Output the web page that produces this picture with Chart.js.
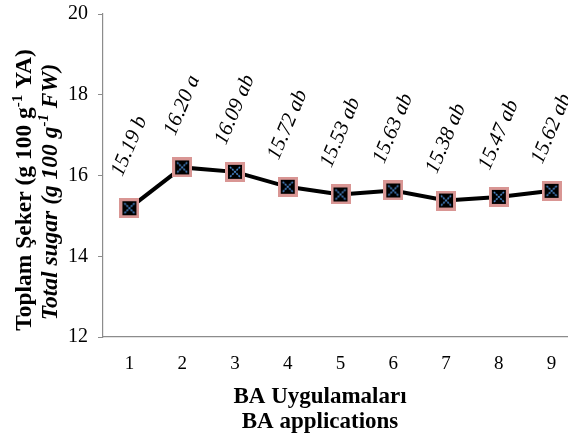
<!DOCTYPE html>
<html>
<head>
<meta charset="utf-8">
<script src="https://cdn.jsdelivr.net/npm/chart.js"></script>
<style>
  html, body { margin: 0; padding: 0; background: #fff; overflow: hidden; }
  #wrap { position: absolute; left: 0; top: 0; width: 580px; height: 438px; }
</style>
</head>
<body>
<div id="wrap"><canvas id="sugar" width="580" height="438"></canvas></div>
<script>
  // values
  const categories = ['1', '2', '3', '4', '5', '6', '7', '8', '9'];
  const totalSugar = [15.19, 16.20, 16.09, 15.72, 15.53, 15.63, 15.38, 15.47, 15.62];
  const letters = ['b', 'a', 'ab', 'ab', 'ab', 'ab', 'ab', 'ab', 'ab'];
  const yTicks = [12, 14, 16, 18, 20];
  const xTitle = ['BA Uygulamaları', 'BA applications'];

  const serif = '"Liberation Serif", "Times New Roman", serif';

  // square marker: pink rim, black body, dotted blue cross
  function makeMarker() {
    const c = document.createElement('canvas');
    c.width = 20; c.height = 20;
    const g = c.getContext('2d');
    g.fillStyle = '#d99694';
    g.fillRect(0, 0, 20, 20);
    g.fillStyle = '#000';
    g.fillRect(3, 3, 14, 14);
    g.strokeStyle = '#4f8fd8';
    g.lineWidth = 1.5;
    g.setLineDash([2, 1]);
    g.beginPath();
    g.moveTo(5, 5); g.lineTo(15, 15);
    g.moveTo(15, 5); g.lineTo(5, 15);
    g.stroke();
    return c;
  }

  const valueLabels = {
    id: 'valueLabels',
    afterDatasetsDraw(chart) {
      const ctx = chart.ctx;
      const pts = chart.getDatasetMeta(0).data;
      ctx.save();
      ctx.font = 'italic 21px ' + serif;
      ctx.fillStyle = '#000';
      ctx.textAlign = 'center';
      ctx.textBaseline = 'middle';
      pts.forEach((p, i) => {
        ctx.save();
        ctx.translate(p.x, p.y - 62);
        ctx.rotate(-67 * Math.PI / 180);
        ctx.fillText(totalSugar[i].toFixed(2) + ' ' + letters[i], 0, 0);
        ctx.restore();
      });
      ctx.restore();
    }
  };

  // axis titles: y has two lines with superscript -1 (second italic), x is two bold lines
  const axisTitles = {
    id: 'axisTitles',
    afterDraw(chart) {
      const ctx = chart.ctx;
      const lines = [
        { x: 31, cy: 190, font: 'bold 23.5px ' + serif, sup: 'bold 15px ' + serif,
          parts: ['Toplam Şeker (g 100 g', '-1', ' YA)'] },
        { x: 57, cy: 192, font: 'italic bold 23.5px ' + serif, sup: 'italic bold 15px ' + serif,
          parts: ['Total sugar (g 100 g', '-1', ' FW)'] }
      ];
      lines.forEach(l => {
        ctx.save();
        ctx.translate(l.x, l.cy);
        ctx.rotate(-Math.PI / 2);
        ctx.fillStyle = '#000';
        ctx.textBaseline = 'alphabetic';
        let w = 0;
        l.parts.forEach((t, i) => {
          ctx.font = i === 1 ? l.sup : l.font;
          w += ctx.measureText(t).width;
        });
        let x = -w / 2;
        l.parts.forEach((t, i) => {
          ctx.font = i === 1 ? l.sup : l.font;
          ctx.fillText(t, x, i === 1 ? -9 : 0);
          x += ctx.measureText(t).width;
        });
        ctx.restore();
      });

      ctx.save();
      ctx.font = 'bold 23px ' + serif;
      ctx.fillStyle = '#000';
      ctx.textAlign = 'center';
      ctx.textBaseline = 'alphabetic';
      ctx.fillText(xTitle[0], 320, 403);
      ctx.fillText(xTitle[1], 320, 428);
      ctx.restore();
    }
  };

  new Chart(document.getElementById('sugar'), {
    type: 'line',
    data: {
      labels: categories,
      datasets: [{
        data: totalSugar,
        borderColor: '#000',
        borderWidth: 4,
        pointStyle: makeMarker(),
        pointRadius: 10,
        pointHoverRadius: 10,
        tension: 0,
        fill: false
      }]
    },
    options: {
      responsive: false,
      animation: false,
      events: [],
      layout: { autoPadding: false, padding: { top: 14, right: 2, left: 0, bottom: 0 } },
      plugins: { legend: { display: false }, tooltip: { enabled: false } },
      scales: {
        x: {
          offset: true,
          grid: { display: false },
          border: { color: '#8c8c8c', width: 1.2 },
          ticks: { color: '#000', font: { family: serif, size: 19 }, padding: 8 },
          afterFit(s) { s.height = 101; s.paddingLeft = 0; s.paddingRight = 0; }
        },
        y: {
          min: 12,
          max: 20,
          afterBuildTicks(s) { s.ticks = yTicks.map(v => ({ value: v })); },
          grid: { drawOnChartArea: false, tickLength: 5, color: '#8c8c8c' },
          border: { color: '#8c8c8c', width: 1.2 },
          ticks: { color: '#000', font: { family: serif, size: 20 }, padding: 10 },
          afterFit(s) { s.width = 103; s.paddingTop = 0; s.paddingBottom = 0; }
        }
      }
    },
    plugins: [valueLabels, axisTitles]
  });
</script>
</body>
</html>
